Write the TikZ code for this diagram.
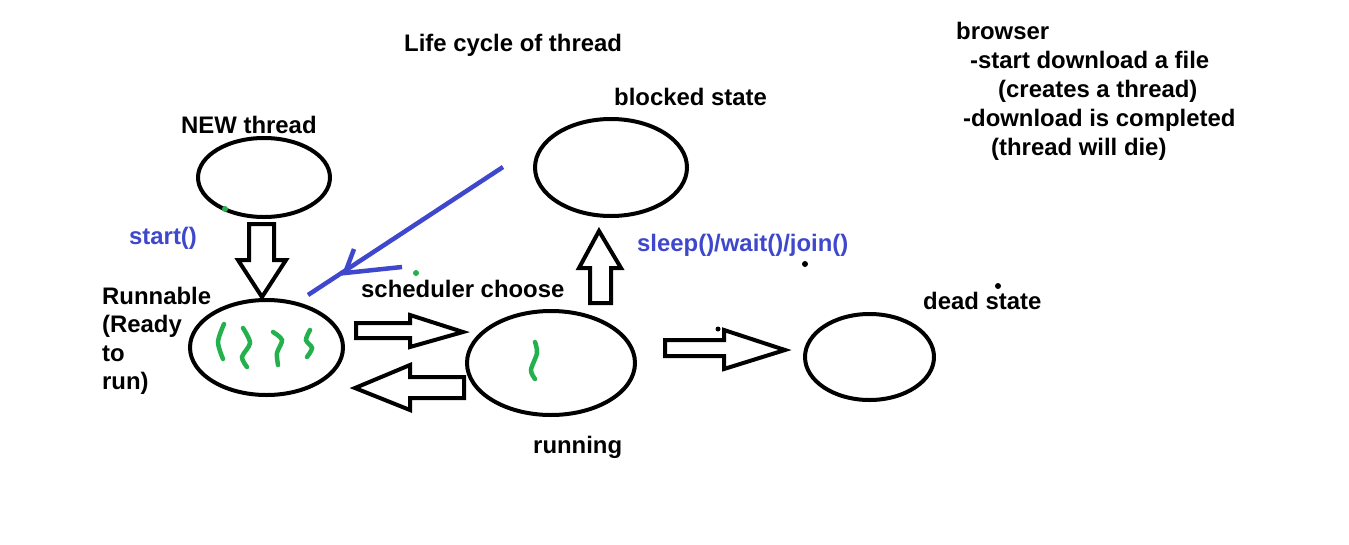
\documentclass[tikz,border=0pt]{standalone}
\usepackage{fontspec}
\setmainfont{Liberation Sans}
\usetikzlibrary{shapes.geometric}
\definecolor{paintblue}{RGB}{63,72,204}
\definecolor{paintgreen}{RGB}{34,177,76}

\begin{document}
\begin{tikzpicture}[x=1pt,y=-1pt,
  stateoval/.style={draw,ellipse,line width=4pt,inner sep=0pt},
  txt/.style={anchor=base west,inner sep=0pt,font=\fontsize{23.9}{28.5}\selectfont\bfseries},
  bluetxt/.style={txt,text=paintblue},
  blockarrow/.style={draw,line width=4pt,line join=miter},
  pen/.style={draw=paintblue,line width=4.5pt},
  squiggle/.style={draw=paintgreen,line width=4.5pt,line cap=round}]
\useasboundingbox[fill=white] (0,0) rectangle (1349,544);

\node[stateoval,minimum width=132pt,minimum height=79pt] (new) at (264,177.5) {};
\node[stateoval,minimum width=153pt,minimum height=95pt] (runnable) at (266.5,347.5) {};
\node[stateoval,minimum width=152pt,minimum height=97pt] (blocked) at (611,167.5) {};
\node[stateoval,minimum width=168pt,minimum height=104pt] (running) at (551,363) {};
\node[stateoval,minimum width=129pt,minimum height=86pt] (dead) at (869.5,357) {};

\draw[blockarrow] (249,224) -- (274,224) -- (274,260) -- (286,260) -- (262,297) -- (238,260) -- (249,260) -- cycle;
\draw[blockarrow] (356,323) -- (410,323) -- (410,315) -- (463,332) -- (410,347) -- (410,338) -- (356,338) -- cycle;
\draw[blockarrow] (464,377) -- (410,377) -- (410,365) -- (355,388) -- (410,410) -- (410,398) -- (464,398) -- cycle;
\draw[blockarrow] (590,303) -- (590,268) -- (579,268) -- (599,231) -- (621,268) -- (611,268) -- (611,303) -- cycle;
\draw[blockarrow] (665,340) -- (724,340) -- (724,330) -- (785,350) -- (724,369) -- (724,356) -- (665,356) -- cycle;

\coordinate (waitfrom) at (503,167);
\coordinate (waitto) at (308,295);
\draw[pen] (waitfrom) -- (waitto);
\draw[pen] (354,249) -- (345,273) -- (402,267);

\draw[squiggle] plot[smooth] coordinates {(224,324) (218,342) (223,359)};
\draw[squiggle] plot[smooth] coordinates {(243,328) (250,343) (242,357) (247,367)};
\draw[squiggle] plot[smooth] coordinates {(273,332) (282,340) (277,353) (278,365)};
\draw[squiggle] plot[smooth] coordinates {(310,330) (306,340) (312,348) (307,357)};
\draw[squiggle] plot[smooth] coordinates {(535,342) (537,353) (531,370) (535,379)};

\fill[paintgreen] (225,209) circle[radius=3pt];
\fill[paintgreen] (416,273) circle[radius=3pt];
\fill (805,264) circle[radius=3pt];
\fill (998,286) circle[radius=3pt];
\fill (718,329) circle[radius=2.5pt];

\node[txt] (title) at (404,51) {Life cycle of thread};
\node[txt] (blockedname) at (614,105) {blocked state};
\node[txt] (newname) at (181,133) {NEW thread};
\node[bluetxt] (startcall) at (129,244) {start()};
\node[bluetxt] (waitcall) at (637,251) {sleep()/wait()/join()};
\node[txt] (runnable1) at (102,304) {Runnable};
\node[txt] (runnable2) at (102,332.5) {(Ready};
\node[txt] (runnable3) at (102,361) {to};
\node[txt] (runnable4) at (102,389.5) {run)};
\node[txt] (schedname) at (361,297) {scheduler choose};
\node[txt] (runningname) at (533,453) {running};
\node[txt] (deadname) at (923,309) {dead state};
\node[txt] (browser1) at (956,39) {browser};
\node[txt] (browser2) at (970,68) {-start download a file};
\node[txt] (browser3) at (998,97) {(creates a thread)};
\node[txt] (browser4) at (963,126) {-download is completed};
\node[txt] (browser5) at (991,155) {(thread will die)};
\end{tikzpicture}
\end{document}
